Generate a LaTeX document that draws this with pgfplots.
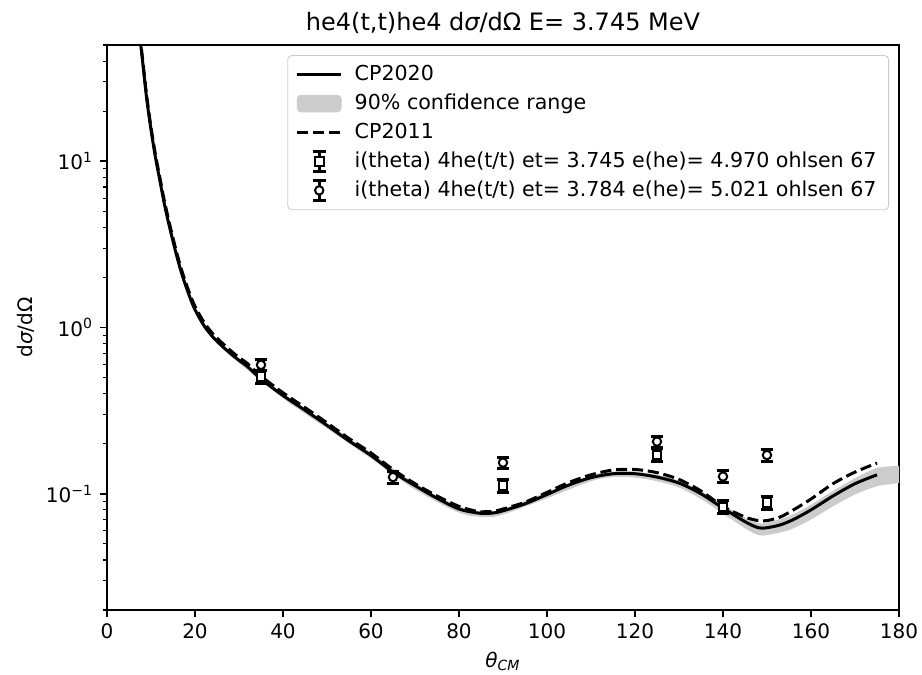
\documentclass[border=0pt]{standalone}
\usepackage{fontspec}
\setmainfont{DejaVu Sans}
\usepackage{pgfplots}
\pgfplotsset{compat=1.18}
\usepgfplotslibrary{fillbetween}
\definecolor{bandgray}{RGB}{204,204,204}

\begin{document}
\begin{tikzpicture}
\begin{axis}[
  scale only axis, width=396pt, height=282.5pt,
  ymode=log, xmin=0, xmax=180, ymin=0.02, ymax=50,
  axis line style={line width=0.8pt},
  tick align=outside, xtick pos=bottom, ytick pos=left,
  major tick length=3.5pt, minor tick length=2pt,
  every tick/.style={black, line width=0.8pt},
  every minor tick/.style={black, line width=0.6pt},
  xtick={0,20,...,180},
  ytick={0.1,1,10},
  yticklabels={10\textsuperscript{−1},10\textsuperscript{0},10\textsuperscript{1}},
  minor ytick={0.02,0.03,0.04,0.05,0.06,0.07,0.08,0.09,0.2,0.3,0.4,0.5,0.6,0.7,0.8,0.9,2,3,4,5,6,7,8,9,20,30,40,50},
  ticklabel style={font=\fontsize{10}{12}\selectfont},
  xticklabel style={/pgf/number format/assume math mode=true},
  title={he4(t,t)he4 d{\itshape σ}/dΩ E= 3.745 MeV},
  every axis title/.style={font=\fontsize{12}{14}\selectfont, at={(rel axis cs:0.5,1)}, anchor=base, yshift=7.5pt},
  xlabel={{\itshape θ}\textsubscript{\itshape CM}},
  every axis x label/.style={font=\fontsize{10}{12}\selectfont, at={(rel axis cs:0.5,0)}, anchor=base, yshift=-28.5pt},
  ylabel={d{\itshape σ}/dΩ},
  ylabel style={font=\fontsize{10}{12}\selectfont, at={(rel axis cs:0,0.5)}, anchor=south, yshift=33pt},
  legend style={at={(0.9874,0.982)}, anchor=north east, draw=bandgray, rounded corners=2pt,
    fill=white, font=\fontsize{10.3}{12.3}\selectfont, row sep=1.2pt, inner xsep=4pt, inner ysep=3pt,
    /tikz/every odd column/.append style={column sep=4pt}},
  legend cell align=left,
]
% legend entries
\addlegendimage{black, line width=1.5pt, legend image code/.code={\draw (0pt,0pt)--(22pt,0pt);}}
\addlegendentry{CP2020}
\addlegendimage{legend image code/.code={\fill[bandgray] (0pt,-4.2pt) rectangle (22pt,4.2pt);}}
\addlegendentry{90\% confidence range}
\addlegendimage{black, line width=1.5pt, dash pattern=on 5.55pt off 2.4pt, legend image code/.code={\draw (0pt,0pt)--(22pt,0pt);}}
\addlegendentry{CP2011}
\addlegendimage{black, mark=square*, mark size=2.2pt, mark options={fill=white, draw=black, line width=1pt, solid},
  legend image code/.code={\draw[line width=1.5pt] (11pt,-5pt)--(11pt,5pt) (7.8pt,-5pt)--(14.2pt,-5pt) (7.8pt,5pt)--(14.2pt,5pt);
  \draw plot coordinates {(11pt,0pt)};}}
\addlegendentry{i(theta) 4he(t/t) et= 3.745 e(he)= 4.970 ohlsen 67}
\addlegendimage{black, mark=*, mark size=2.1pt, mark options={fill=white, draw=black, line width=1pt, solid},
  legend image code/.code={\draw[line width=1.5pt] (11pt,-5pt)--(11pt,5pt) (7.8pt,-5pt)--(14.2pt,-5pt) (7.8pt,5pt)--(14.2pt,5pt);
  \draw plot coordinates {(11pt,0pt)};}}
\addlegendentry{i(theta) 4he(t/t) et= 3.784 e(he)= 5.021 ohlsen 67}

% confidence band
\addplot[name path=bandhi, draw=none, smooth, forget plot] coordinates {
(7,71) (10,15.8) (15,3.36) (20,1.31) (25,0.85) (30,0.65) (40,0.40) (50,0.265) (60,0.177) (70,0.115)
(80,0.084) (86,0.0785) (90,0.081) (100,0.102) (110,0.129) (115,0.136) (120,0.136) (125,0.130)
(130,0.120) (135,0.104) (140,0.086) (145,0.072) (148,0.0665) (150,0.067) (155,0.0735) (160,0.086)
(165,0.104) (170,0.124) (175,0.143) (180,0.147)};
\addplot[name path=bandlo, draw=none, smooth, forget plot] coordinates {
(7,69) (10,15.2) (15,3.22) (20,1.24) (25,0.81) (30,0.61) (40,0.375) (50,0.247) (60,0.163) (70,0.106)
(80,0.077) (86,0.0725) (90,0.075) (100,0.094) (110,0.119) (115,0.126) (120,0.125) (125,0.119)
(130,0.109) (135,0.093) (140,0.076) (145,0.062) (148,0.0565) (150,0.0565) (155,0.0605) (160,0.070)
(165,0.084) (170,0.099) (175,0.111) (180,0.116)};
\addplot[bandgray, forget plot] fill between[of=bandhi and bandlo];

% CP2020
\addplot[black, line width=1.5pt, smooth, forget plot] coordinates {
(7,72) (8,42) (9,24) (10,15.5) (11,10.6) (12,7.7) (13,5.6) (14,4.25) (15,3.3) (16,2.6) (17,2.1)
(18,1.75) (19,1.48) (20,1.28) (22,1.03) (24,0.88) (26,0.78) (28,0.70) (30,0.635) (32,0.58) (35,0.49)
(40,0.39) (45,0.318) (50,0.258) (55,0.208) (60,0.170) (65,0.135) (70,0.112) (75,0.094) (80,0.081)
(84,0.0768) (86,0.0762) (88,0.0768) (90,0.079) (95,0.087) (100,0.099) (105,0.113) (110,0.125)
(115,0.132) (120,0.132) (125,0.126) (130,0.116) (135,0.100) (140,0.082) (145,0.068) (148,0.0625)
(150,0.0625) (153,0.065) (156,0.070) (160,0.080) (165,0.097) (170,0.115) (175,0.130)};

% CP2011
\addplot[black, line width=1.5pt, dash pattern=on 5.55pt off 2.4pt, smooth, forget plot] coordinates {
(7,73) (8,43) (9,25) (10,16) (11,11) (12,8.0) (13,5.85) (14,4.45) (15,3.45) (16,2.72) (17,2.2)
(18,1.83) (19,1.55) (20,1.34) (22,1.08) (24,0.92) (26,0.815) (28,0.73) (30,0.66) (32,0.605) (35,0.51)
(40,0.405) (45,0.33) (50,0.267) (55,0.215) (60,0.176) (65,0.14) (70,0.115) (75,0.097) (80,0.084)
(84,0.0785) (86,0.078) (88,0.0785) (90,0.081) (95,0.089) (100,0.102) (105,0.117) (110,0.130)
(115,0.139) (120,0.140) (125,0.134) (130,0.122) (135,0.104) (140,0.084) (145,0.0725) (148,0.069)
(150,0.069) (153,0.0725) (156,0.080) (160,0.093) (165,0.115) (170,0.135) (175,0.153)};

% data et=3.745
\addplot[forget plot, only marks, black, mark=square*, mark size=2.2pt, mark options={fill=white, draw=black, line width=1pt},
  error bars/.cd, y dir=both, y explicit, error bar style={line width=1.5pt, black},
  error mark options={rotate=90, line width=1.5pt, mark size=3.2pt, black}] coordinates {
(35,0.507) +- (0,0.046)
(90,0.112) +- (0,0.0101)
(125,0.171) +- (0,0.0154)
(140,0.0832) +- (0,0.0075)
(150,0.0887) +- (0,0.0080)};

% data et=3.784
\addplot[forget plot, only marks, black, mark=*, mark size=2.1pt, mark options={fill=white, draw=black, line width=1pt},
  error bars/.cd, y dir=both, y explicit, error bar style={line width=1.5pt, black},
  error mark options={rotate=90, line width=1.5pt, mark size=3.2pt, black}] coordinates {
(35,0.596) +- (0,0.048)
(65,0.126) +- (0,0.0101)
(90,0.154) +- (0,0.0123)
(125,0.206) +- (0,0.0165)
(140,0.127) +- (0,0.0102)
(150,0.171) +- (0,0.0137)};
\end{axis}
\pgfresetboundingbox
\useasboundingbox ([xshift=-53.5pt,yshift=-32pt]current axis.south west) rectangle ([xshift=11.5pt,yshift=22.5pt]current axis.north east);
\end{tikzpicture}
\end{document}
